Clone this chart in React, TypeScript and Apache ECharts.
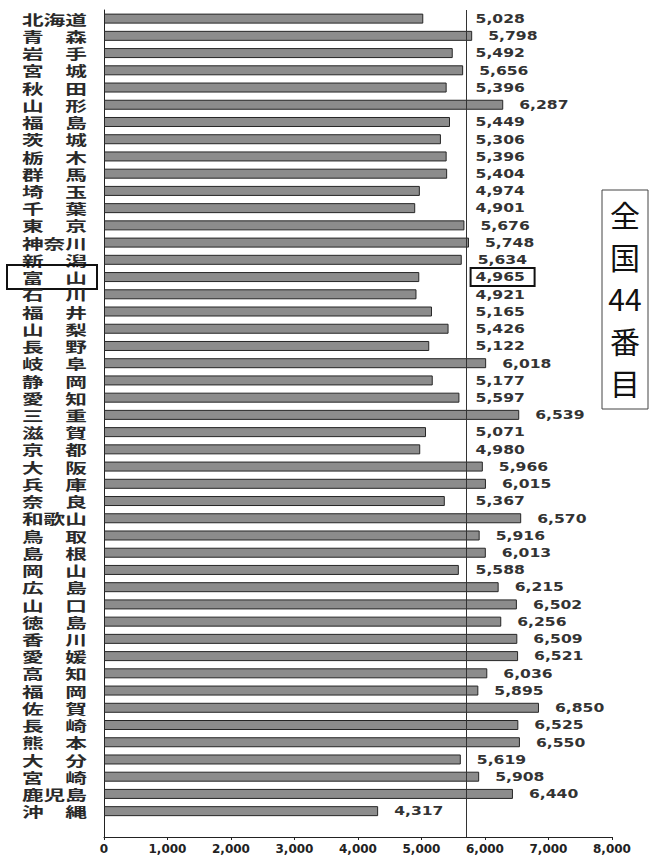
import React, { useEffect, useRef } from "react";
import * as echarts from "echarts";

// Prefectures, north to south
const PREFECTURES = [
  "北海道", "青森", "岩手", "宮城", "秋田", "山形", "福島", "茨城", "栃木", "群馬",
  "埼玉", "千葉", "東京", "神奈川", "新潟", "富山", "石川", "福井", "山梨", "長野",
  "岐阜", "静岡", "愛知", "三重", "滋賀", "京都", "大阪", "兵庫", "奈良", "和歌山",
  "鳥取", "島根", "岡山", "広島", "山口", "徳島", "香川", "愛媛", "高知", "福岡",
  "佐賀", "長崎", "熊本", "大分", "宮崎", "鹿児島", "沖縄",
];

const VALUES = [
  5028, 5798, 5492, 5656, 5396, 6287, 5449, 5306, 5396, 5404,
  4974, 4901, 5676, 5748, 5634, 4965, 4921, 5165, 5426, 5122,
  6018, 5177, 5597, 6539, 5071, 4980, 5966, 6015, 5367, 6570,
  5916, 6013, 5588, 6215, 6502, 6256, 6509, 6521, 6036, 5895,
  6850, 6525, 6550, 5619, 5908, 6440, 4317,
];

// x axis range and tick step
const X_MIN = 0;
const X_MAX = 8000;
const X_STEP = 1000;

// national reference line
const NATIONAL_LINE = 5700;

// prefecture singled out with boxes, and its national rank
const HIGHLIGHT = "富山";
const RANK_NOTE = ["全", "国", "44", "番", "目"];

// value labels keep to a column right of the national line,
// except for bars that stop well short of it
const LABEL_FLOOR = 5600;
const LOW_CUTOFF = 4500;

// an empty slot below the last bar leaves room above the x axis
const CATEGORIES = [...PREFECTURES, ""];

const spaced = (name: string) =>
  name.length === 2 ? `${name[0]}\u3000${name[1]}` : name;

const fmt = (v: number) => v.toLocaleString("en-US");

export default function App() {
  const ref = useRef<HTMLDivElement>(null);

  useEffect(() => {
    if (!ref.current) return;
    const chart = echarts.init(ref.current, undefined, { renderer: "svg" });

    const option: any = {
      animation: false,
      backgroundColor: "#ffffff",
      grid: { left: 104, right: 39, top: 10, bottom: 19, containLabel: false },
      xAxis: {
        type: "value",
        min: X_MIN,
        max: X_MAX,
        interval: X_STEP,
        splitLine: { show: false },
        axisLine: { show: true, lineStyle: { color: "#222", width: 1 } },
        axisTick: { show: true, length: 3, lineStyle: { color: "#222" } },
        axisLabel: {
          margin: 6,
          color: "#222",
          fontFamily: "DejaVu Sans",
          fontWeight: "bold",
          fontSize: 12,
          formatter: (v: number) => fmt(v),
        },
      },
      yAxis: {
        type: "category",
        inverse: true,
        data: CATEGORIES,
        axisLine: { show: true, lineStyle: { color: "#222", width: 1 } },
        axisTick: { show: false },
        axisLabel: { show: false },
        splitLine: { show: false },
      },
      series: [
        {
          type: "bar",
          data: VALUES,
          barWidth: 10,
          itemStyle: { color: "#8c8c8c", borderColor: "#262626", borderWidth: 1 },
          markLine: {
            silent: true,
            symbol: ["none", "none"],
            label: { show: false },
            lineStyle: { color: "#333", width: 1, type: "solid" },
            data: [{ xAxis: NATIONAL_LINE }],
          },
        },
        {
          // prefecture names, set wide to the left of the axis
          type: "custom",
          silent: true,
          clip: false,
          data: PREFECTURES.map((_, i) => [0, i]),
          encode: { x: 0, y: 1 },
          renderItem: (_params: any, api: any) => {
            const i = api.value(1);
            const [x0, y] = api.coord([0, i]);
            const text = {
              type: "text",
              x: x0 - 17,
              y,
              scaleX: 1.55,
              style: {
                text: spaced(PREFECTURES[i]),
                align: "right",
                textAlign: "right",
                verticalAlign: "middle",
                textVerticalAlign: "middle",
                font: 'bold 14px "Noto Sans CJK JP"',
                fill: "#2a2a2a",
              },
            };
            if (PREFECTURES[i] !== HIGHLIGHT) return text;
            return {
              type: "group",
              children: [
                text,
                {
                  type: "rect",
                  shape: { x: x0 - 97, y: y - 12, width: 90, height: 24 },
                  style: { fill: "none", stroke: "#111", lineWidth: 2 },
                },
              ],
            };
          },
        },
        {
          // value labels
          type: "custom",
          silent: true,
          clip: false,
          data: VALUES.map((v, i) => [v, i]),
          encode: { x: 0, y: 1 },
          renderItem: (_params: any, api: any) => {
            const v = api.value(0);
            const i = api.value(1);
            const end = api.coord([v, i]);
            const floor = api.coord([LABEL_FLOOR, i]);
            const x = (v < LOW_CUTOFF ? end[0] : Math.max(end[0], floor[0])) + 16;
            const y = end[1];
            const text = {
              type: "text",
              x,
              y,
              scaleX: 1.3,
              style: {
                text: fmt(v),
                align: "left",
                textAlign: "left",
                verticalAlign: "middle",
                textVerticalAlign: "middle",
                font: 'bold 12px "DejaVu Sans"',
                fill: "#333",
              },
            };
            if (PREFECTURES[i] !== HIGHLIGHT) return text;
            return {
              type: "group",
              children: [
                text,
                {
                  type: "rect",
                  shape: { x: x - 5, y: y - 9, width: 64, height: 18 },
                  style: { fill: "none", stroke: "#111", lineWidth: 2 },
                },
              ],
            };
          },
        },
      ],
      graphic: [
        {
          type: "rect",
          shape: { x: 602, y: 190, width: 46, height: 219 },
          style: { fill: "#ffffff", stroke: "#444", lineWidth: 1 },
          z: 10,
        },
        {
          type: "text",
          x: 625,
          y: 193,
          z: 11,
          style: {
            text: RANK_NOTE.join("\n"),
            font: '30px "Noto Sans CJK JP"',
            textAlign: "center",
            textVerticalAlign: "top",
            lineHeight: 42,
            fill: "#111",
          },
        },
      ],
    };

    chart.setOption(option);
    return () => chart.dispose();
  }, []);

  return (
    <div
      ref={ref}
      style={{ position: "fixed", left: 0, top: 0, width: 651, height: 856, background: "#fff" }}
    />
  );
}
